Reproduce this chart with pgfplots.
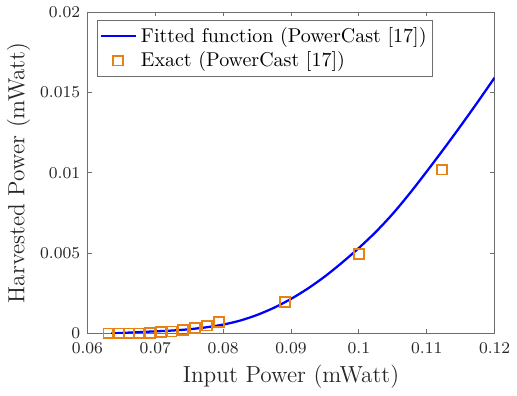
\documentclass[border=0pt]{standalone}
\usepackage{pgfplots}
\pgfplotsset{compat=1.18}
\definecolor{fitblue}{rgb}{0,0,1}
\definecolor{exorange}{RGB}{230,130,20}
\definecolor{axgray}{RGB}{110,110,110}
\begin{document}
\begin{tikzpicture}
\begin{axis}[
  scale only axis,
  width=197.6pt, height=155.9pt,
  xmin=0.06, xmax=0.12, ymin=0, ymax=0.02,
  xtick={0.06,0.07,0.08,0.09,0.1,0.11,0.12},
  ytick={0,0.005,0.01,0.015,0.02},
  scaled x ticks=false, scaled y ticks=false,
  xticklabel style={/pgf/number format/fixed,/pgf/number format/precision=3, yshift=-1pt},
  yticklabel style={/pgf/number format/fixed,/pgf/number format/precision=3},
  tick label style={font=\fontsize{8.3}{10}\selectfont, text=black!85},
  label style={font=\fontsize{11.3}{13}\selectfont, text=black!85},
  xlabel={Input Power (mWatt)},
  ylabel={Harvested Power (mWatt)},
  xlabel style={yshift=1pt},
  ylabel style={yshift=-2pt},
  tick align=inside, major tick length=2pt,
  axis line style={axgray, line width=0.4pt},
  tick style={axgray, line width=0.4pt},
  legend style={at={(0.0234,0.9755)}, anchor=north west,
                font=\fontsize{9.7}{11.5}\selectfont, draw=axgray,
                line width=0.4pt, inner xsep=1pt, inner ysep=1.3pt,
                row sep=-1pt},
  legend cell align=left,
]
\addplot[fitblue, line width=1.1pt, smooth] coordinates {
  (0.0635,0.00000) (0.065,0.00003) (0.0675,0.00008) (0.07,0.00013)
  (0.0725,0.00018) (0.075,0.00026) (0.0775,0.00038) (0.08,0.00055)
  (0.0825,0.00080) (0.085,0.00115) (0.0875,0.00160) (0.09,0.00215)
  (0.0925,0.00280) (0.095,0.00355) (0.0975,0.00440) (0.1,0.00532)
  (0.1025,0.00632) (0.105,0.00745) (0.1075,0.00872) (0.11,0.01008)
  (0.1125,0.01148) (0.115,0.01292) (0.1175,0.01440) (0.12,0.01592)
};
\addlegendentry{Fitted function (PowerCast [17])}
\addplot[only marks, mark=square, mark size=2.4pt,
         mark options={exorange, line width=0.9pt}] coordinates {
  (0.0631,0.00000) (0.0646,0.00000) (0.0661,0.00000) (0.0676,0.00000)
  (0.0692,0.00004) (0.0708,0.00008) (0.0724,0.00012) (0.0741,0.00020)
  (0.0759,0.00032) (0.0776,0.00049) (0.0794,0.00073)
  (0.0891,0.00197) (0.1,0.00494) (0.1122,0.01020)
};
\addlegendentry{Exact (PowerCast [17])}
\end{axis}
\path ([shift={(-39.5pt,-25.6pt)}]current axis.south west)
  rectangle ([shift={(9.5pt,4.8pt)}]current axis.north east);
\end{tikzpicture}
\end{document}
